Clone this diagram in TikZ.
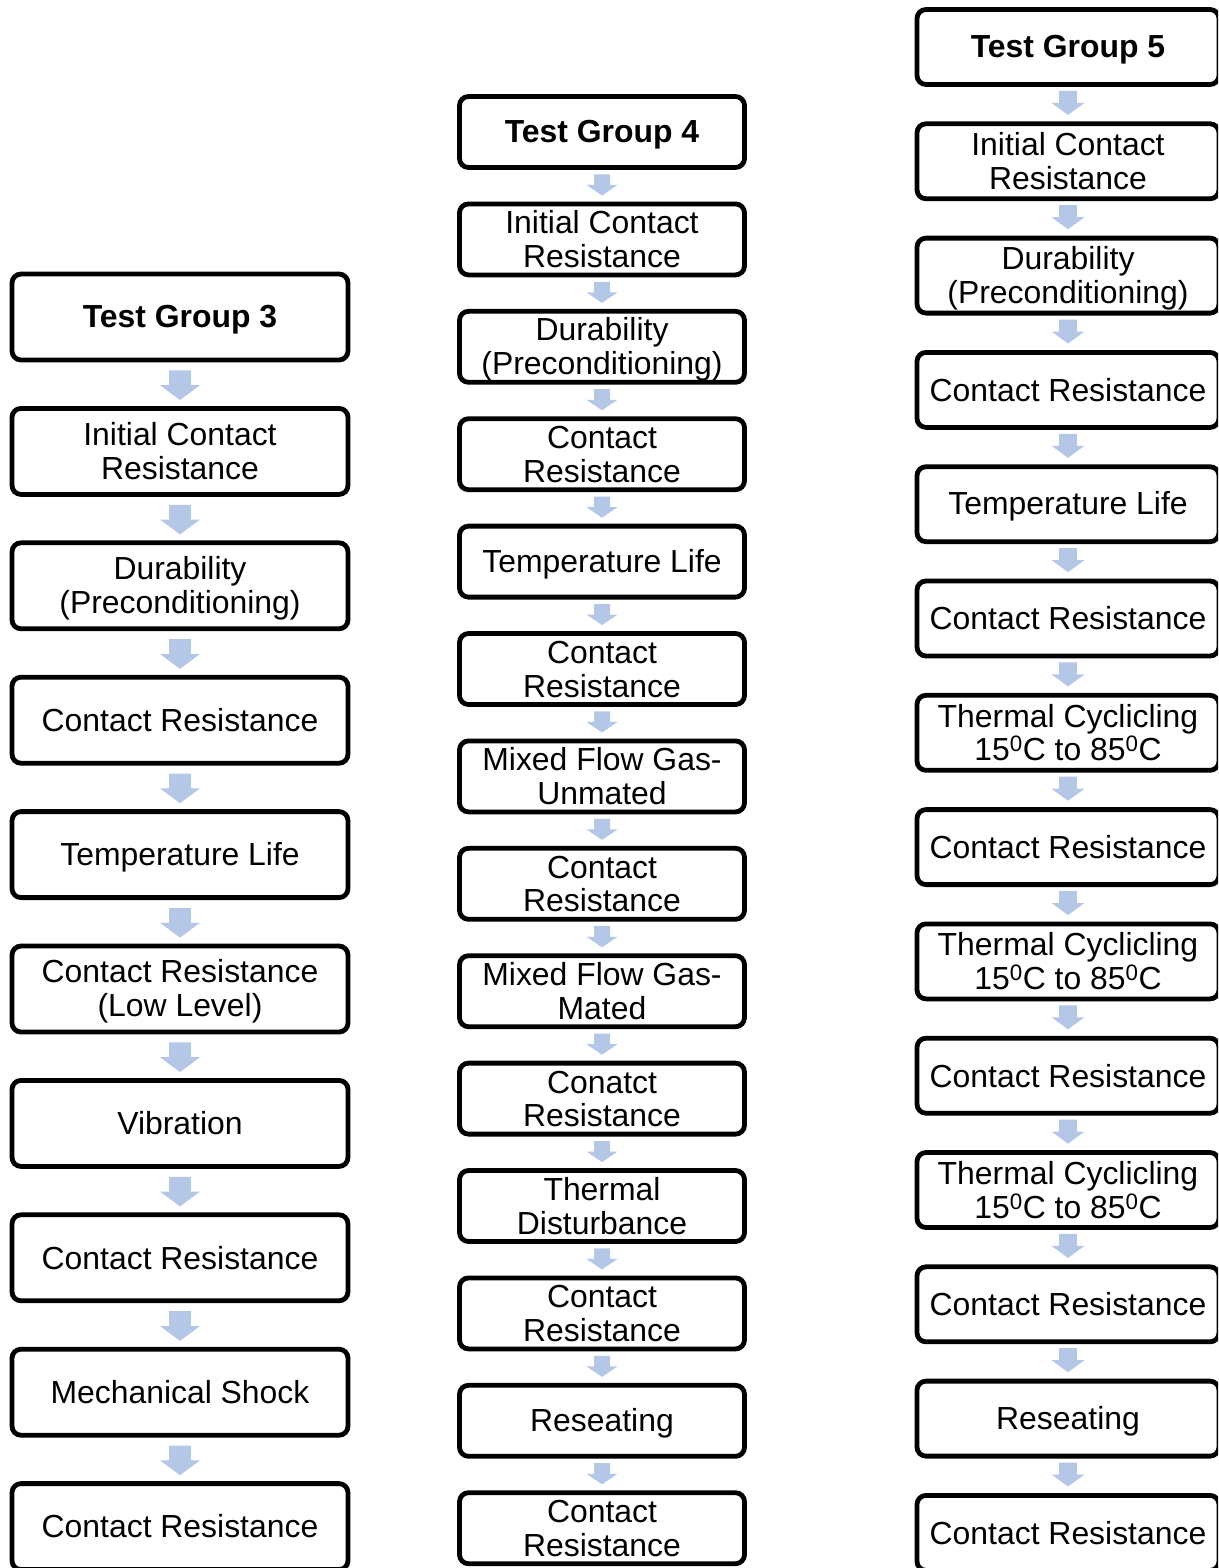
\documentclass[tikz,border=0pt]{standalone}
\usepackage{fontspec}
\setmainfont{Liberation Sans}
\usetikzlibrary{calc}
\definecolor{arrowblue}{RGB}{180,199,231}
\newcommand\boxfont{\fontsize{31.9pt}{33.5pt}\selectfont\lineskiplimit=-50pt\relax}
\newcommand\lstr{\rule[-5.45pt]{0pt}{33.5pt}}
\newcommand\degz{\textsuperscript{0}}
% block arrow between two named nodes: from, to, top gap, tip gap, half shaft, half head
\newcommand\blk[6]{%
  \fill[arrowc] let \p1=(#1.south), \p2=(#2.north) in
    (\x1-#5,\y1-#3) -- (\x1+#5,\y1-#3)
    -- (\x1+#5,{(\y1-#3+\y2+#4)/2}) -- (\x1+#6,{(\y1-#3+\y2+#4)/2})
    -- (\x1,\y2+#4)
    -- (\x1-#6,{(\y1-#3+\y2+#4)/2}) -- (\x1-#5,{(\y1-#3+\y2+#4)/2}) -- cycle;}
\newcommand\arrA[2]{\blk{#1}{#2}{8pt}{6pt}{10.8pt}{20pt}}
\newcommand\arrB[2]{\blk{#1}{#2}{4.5pt}{6pt}{8pt}{15.5pt}}
\newcommand\arrC[2]{\blk{#1}{#2}{4pt}{6.5pt}{8.8pt}{16.5pt}}
\tikzset{
  arrowc/.style={fill=arrowblue},
  boxc/.style={draw=black, line width=4.8pt, rounded corners=9pt, fill=white,
    align=center, inner sep=0pt, font=\boxfont},
  ttl/.style={font=\boxfont\bfseries},
  gA/.style={boxc, minimum width=336pt, minimum height=86pt},
  gB/.style={boxc, minimum width=285pt, minimum height=71pt},
  gC/.style={boxc, minimum width=302pt, minimum height=75pt},
}
\begin{document}
\begin{tikzpicture}[x=1pt,y=-1pt]
\useasboundingbox (0,0) rectangle (1218,1568);
\clip (0,0) rectangle (1218,1568);
\fill[white] (0,0) rectangle (1218,1568);
% ---------------- Test Group 3 ----------------
\node[gA,ttl] (a0) at (180,317)    {\lstr Test Group 3};
\node[gA]     (a1) at (180,451.4)  {\lstr Initial Contact\\\lstr Resistance};
\node[gA]     (a2) at (180,585.8)  {\lstr Durability\\\lstr (Preconditioning)};
\node[gA]     (a3) at (180,720.2)  {\lstr Contact Resistance};
\node[gA]     (a4) at (180,854.6)  {\lstr Temperature Life};
\node[gA]     (a5) at (180,989)    {\lstr Contact Resistance\\\lstr (Low Level)};
\node[gA]     (a6) at (180,1123.4) {\lstr Vibration};
\node[gA]     (a7) at (180,1257.8) {\lstr Contact Resistance};
\node[gA]     (a8) at (180,1392.2) {\lstr Mechanical Shock};
\node[gA]     (a9) at (180,1526.6) {\lstr Contact Resistance};
% ---------------- Test Group 4 ----------------
\node[gB,ttl] (b0)  at (602,132)    {\lstr Test Group 4};
\node[gB]     (b1)  at (602,239.4)  {\lstr Initial Contact\\\lstr Resistance};
\node[gB]     (b2)  at (602,346.8)  {\lstr Durability\\\lstr (Preconditioning)};
\node[gB]     (b3)  at (602,454.2)  {\lstr Contact\\\lstr Resistance};
\node[gB]     (b4)  at (602,561.6)  {\lstr Temperature Life};
\node[gB]     (b5)  at (602,669)    {\lstr Contact\\\lstr Resistance};
\node[gB]     (b6)  at (602,776.4)  {\lstr Mixed Flow Gas-\\\lstr Unmated};
\node[gB]     (b7)  at (602,883.8)  {\lstr Contact\\\lstr Resistance};
\node[gB]     (b8)  at (602,991.2)  {\lstr Mixed Flow Gas-\\\lstr Mated};
\node[gB]     (b9)  at (602,1098.6) {\lstr Conatct\\\lstr Resistance};
\node[gB]     (b10) at (602,1206)   {\lstr Thermal\\\lstr Disturbance};
\node[gB]     (b11) at (602,1313.4) {\lstr Contact\\\lstr Resistance};
\node[gB]     (b12) at (602,1420.8) {\lstr Reseating};
\node[gB]     (b13) at (602,1528.2) {\lstr Contact\\\lstr Resistance};
% ---------------- Test Group 5 ----------------
\node[gC,ttl] (c0)  at (1068,47)     {\lstr Test Group 5};
\node[gC]     (c1)  at (1068,161.3)  {\lstr Initial Contact\\\lstr Resistance};
\node[gC]     (c2)  at (1068,275.6)  {\lstr Durability\\\lstr (Preconditioning)};
\node[gC]     (c3)  at (1068,389.9)  {\lstr Contact Resistance};
\node[gC]     (c4)  at (1068,504.2)  {\lstr Temperature Life};
\node[gC]     (c5)  at (1068,618.5)  {\lstr Contact Resistance};
\node[gC]     (c6)  at (1068,732.8)  {\lstr Thermal Cyclicling\\\lstr 15\degz C to 85\degz C};
\node[gC]     (c7)  at (1068,847.1)  {\lstr Contact Resistance};
\node[gC]     (c8)  at (1068,961.4)  {\lstr Thermal Cyclicling\\\lstr 15\degz C to 85\degz C};
\node[gC]     (c9)  at (1068,1075.7) {\lstr Contact Resistance};
\node[gC]     (c10) at (1068,1190)   {\lstr Thermal Cyclicling\\\lstr 15\degz C to 85\degz C};
\node[gC]     (c11) at (1068,1304.3) {\lstr Contact Resistance};
\node[gC]     (c12) at (1068,1418.6) {\lstr Reseating};
\node[gC]     (c13) at (1068,1532.9) {\lstr Contact Resistance};
% ---------------- arrows ----------------
\foreach \i [evaluate=\i as \j using int(\i+1)] in {0,...,8} {\arrA{a\i}{a\j}}
\foreach \i [evaluate=\i as \j using int(\i+1)] in {0,...,12} {\arrB{b\i}{b\j}}
\foreach \i [evaluate=\i as \j using int(\i+1)] in {0,...,12} {\arrC{c\i}{c\j}}
\end{tikzpicture}
\end{document}
